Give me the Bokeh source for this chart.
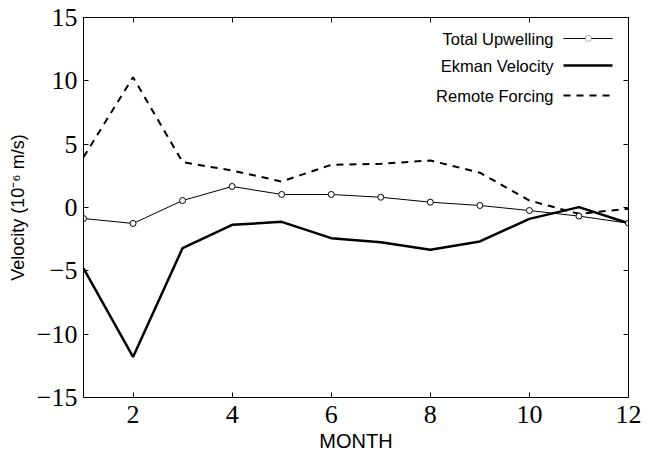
from bokeh.plotting import figure
from bokeh.models import FixedTicker, LinearAxis, Label, Arrow, BoxAnnotation
from bokeh.embed import file_html
from bokeh.resources import INLINE

# ---- data ----
months = [1, 2, 3, 4, 5, 6, 7, 8, 9, 10, 11, 12]
total_upwelling = [-0.87, -1.26, 0.55, 1.66, 1.03, 1.03, 0.81, 0.42, 0.16, -0.24, -0.68, -1.24]
ekman_velocity = [-4.8, -11.8, -3.2, -1.37, -1.13, -2.42, -2.74, -3.34, -2.68, -0.9, 0.03, -1.24]
remote_forcing = [3.97, 10.29, 3.58, 2.92, 2.05, 3.37, 3.45, 3.71, 2.75, 0.55, -0.5, -0.1]
x_ticks = [2, 4, 6, 8, 10, 12]
y_ticks = [-15, -10, -5, 0, 5, 10, 15]
legend_labels = ["Total Upwelling", "Ekman Velocity", "Remote Forcing"]

SERIF = "Liberation Serif"
SANS = "Liberation Sans"

p = figure(
    x_range=(1, 12), y_range=(-15, 15),
    frame_width=545, frame_height=380,
    min_border_left=83, min_border_right=17, min_border_top=17, min_border_bottom=61,
    output_backend="svg", toolbar_location=None,
    background_fill_color="white", border_fill_color="white",
)
p.grid.visible = False
p.outline_line_color = "black"
p.outline_line_width = 1

for ax in (p.xaxis[0], p.yaxis[0]):
    ax.major_tick_in = 5
    ax.major_tick_out = 0
    ax.minor_tick_line_color = None
    ax.axis_line_color = "black"
    ax.major_tick_line_color = "black"
    ax.major_label_text_font = SERIF
    ax.major_label_text_font_size = "26px"
    ax.major_label_text_color = "black"
    ax.axis_label_text_font = SANS
    ax.axis_label_text_font_style = "normal"
    ax.axis_label_text_color = "black"

p.xaxis.ticker = FixedTicker(ticks=x_ticks)
p.yaxis.ticker = FixedTicker(ticks=y_ticks)
p.xaxis.axis_label = "MONTH"
p.xaxis.axis_label_text_font_size = "20px"
p.xaxis.axis_label_standoff = 4
p.xaxis.major_label_standoff = 8
p.yaxis.axis_label = "Velocity (10\u207b\u2076 m/s)"
p.yaxis.axis_label_text_font_size = "18px"
p.yaxis.axis_label_standoff = 6
p.yaxis.major_label_standoff = 6

top = LinearAxis(ticker=FixedTicker(ticks=x_ticks), major_label_text_font_size="1px",
                 major_label_text_color=None,
                 major_tick_in=5, major_tick_out=0, minor_tick_line_color=None,
                 major_label_standoff=0, axis_line_color="black")
right = LinearAxis(ticker=FixedTicker(ticks=y_ticks), major_label_text_font_size="1px",
                   major_label_text_color=None,
                   major_tick_in=5, major_tick_out=0, minor_tick_line_color=None,
                   major_label_standoff=0, axis_line_color="black")
p.add_layout(top, "above")
p.add_layout(right, "right")

# ---- series ----
p.line(months, remote_forcing, line_color="black", line_width=2, line_dash="7 6")
p.line(months, ekman_velocity, line_color="black", line_width=2.5)
p.line(months, total_upwelling, line_color="black", line_width=1)
p.scatter(months, total_upwelling, marker="circle", size=6, fill_color="white",
          line_color="black", line_width=1)

# ---- legend (screen units, text right-aligned with sample on the right) ----
rows_y = [359, 332, 302]
styles = [dict(line_width=1, line_dash="solid"),
          dict(line_width=2.5, line_dash="solid"),
          dict(line_width=2, line_dash="7 6")]
for lab, yy, st in zip(legend_labels, rows_y, styles):
    p.add_layout(Label(x=470, y=yy, x_units="screen", y_units="screen", text=lab,
                       text_align="right", text_baseline="middle",
                       text_font=SANS, text_font_size="16.5px", text_color="black"))
    p.add_layout(Arrow(x_start=480, y_start=yy, x_end=529, y_end=yy,
                       start_units="screen", end_units="screen", end=None,
                       line_color="black", **st))
p.add_layout(BoxAnnotation(left=502, right=508, bottom=rows_y[0] - 3, top=rows_y[0] + 3,
                           left_units="screen", right_units="screen",
                           bottom_units="screen", top_units="screen",
                           fill_color="white", fill_alpha=1, line_color="black",
                           line_width=1, border_radius=3))

open("out.html", "w").write(file_html(p, INLINE))
